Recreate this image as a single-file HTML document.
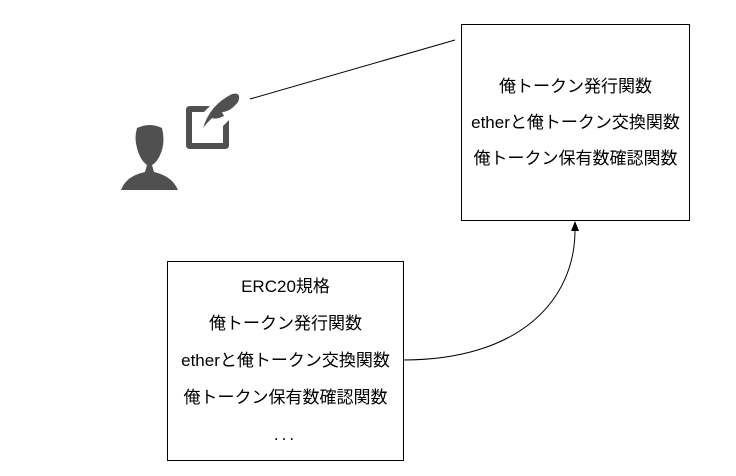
<!DOCTYPE html>
<html><head><meta charset="utf-8"><style>
body{margin:0;width:736px;height:476px;background:#fff;position:relative;overflow:hidden;font-family:"Liberation Sans","Noto Sans CJK JP",sans-serif;font-size:17px;color:#000}
.b{position:absolute;border:1px solid #000;background:#fff}
.t{position:absolute;left:-20px;right:-20px;text-align:center;line-height:20px}
</style></head><body>
<svg width="736" height="476" style="position:absolute;left:0;top:0">
<line x1="250" y1="99" x2="455" y2="40" stroke="#000" stroke-width="1"/>
<path d="M403 360 C520 360 575 300 575 230" fill="none" stroke="#000"/>
<polygon points="575,221 571,231 579,231" fill="#000"/>
<g fill="#505050">
<path d="M137 128 Q150 122 162 128 Q165 140 162 150 Q158 162 152 165 L154 172 Q172 176 178 190 L121 190 Q126 176 145 172 L147 165 Q140 160 137 148 Q134 138 137 128 Z"/>
<path d="M187 106 L210 106 L204 112 L192 112 L192 143 L223 143 L223 126 L229 120 L229 145 Q229 149 225 149 L190 149 Q186 149 186 145 L186 110 Q186 106 190 106 Z"/>
<path d="M203 128 Q210 105 232 94 Q242 92 238 102 Q230 112 222 112 L224 116 Q216 120 212 118 Q206 124 203 128 Z"/>
</g>
</svg>
<div class="b" style="left:461px;top:24px;width:227px;height:195px">
<div class="t" style="top:52px">俺トークン発行関数</div>
<div class="t" style="top:88px">etherと俺トークン交換関数</div>
<div class="t" style="top:124px">俺トークン保有数確認関数</div>
</div>
<div class="b" style="left:167px;top:261px;width:235px;height:198px">
<div class="t" style="top:15px">ERC20規格</div>
<div class="t" style="top:52px">俺トークン発行関数</div>
<div class="t" style="top:89px">etherと俺トークン交換関数</div>
<div class="t" style="top:126px">俺トークン保有数確認関数</div>
<div class="t" style="top:163px;letter-spacing:3px">...</div>
</div>
</body></html>
